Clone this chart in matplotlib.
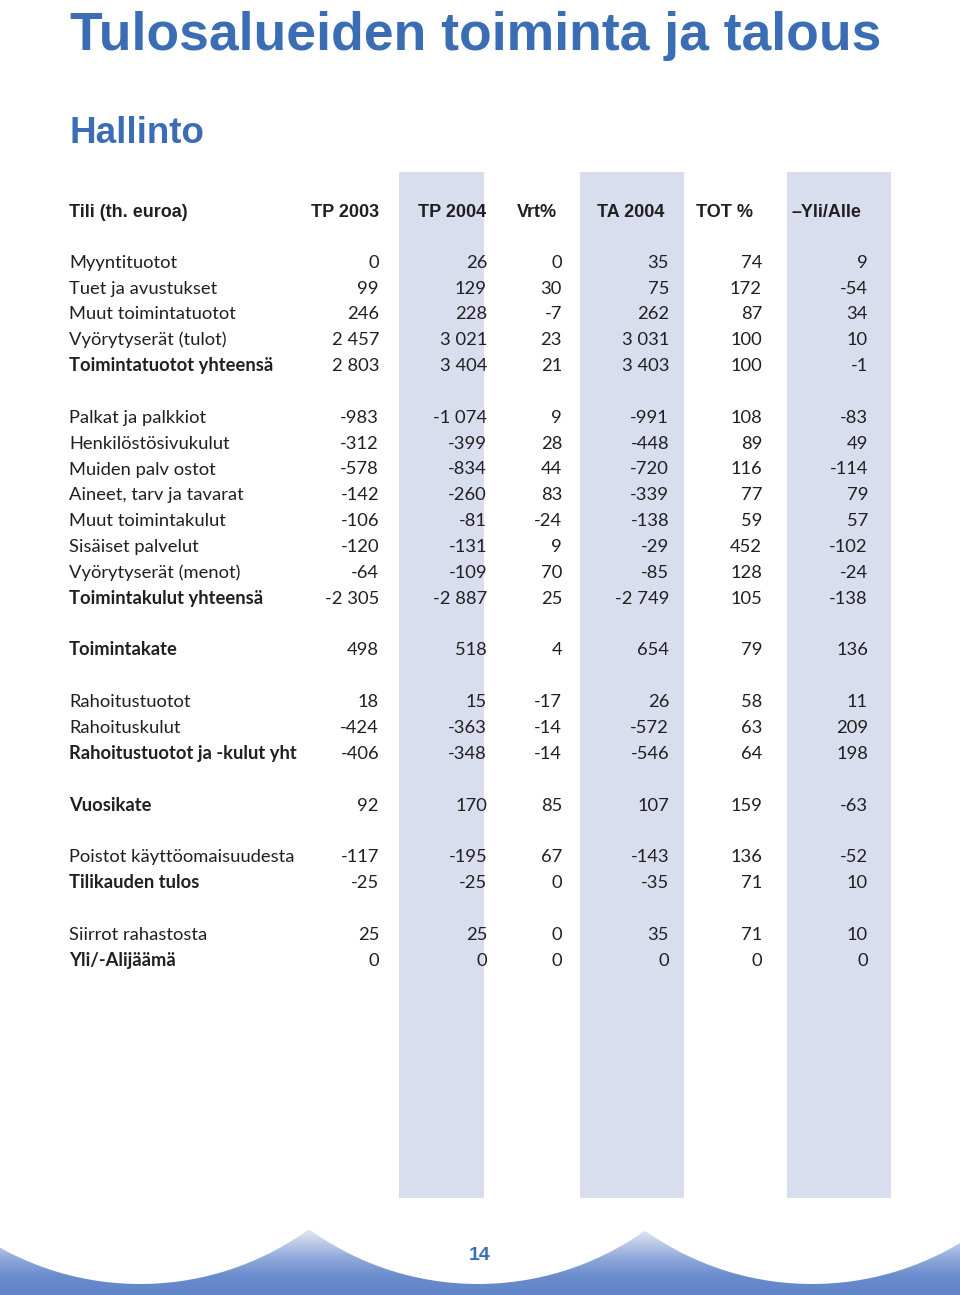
import numpy as np
import matplotlib
matplotlib.use('Agg')
import matplotlib.pyplot as plt
from matplotlib.path import Path
from matplotlib.patches import PathPatch, Rectangle

HEAD = 'Liberation Sans'
BODY = 'Lato'

TITLE    = 'Tulosalueiden toiminta ja talous'
SUBTITLE = 'Hallinto'
HEADERS  = ['Tili (th. euroa)', 'TP 2003', 'TP 2004', 'Vrt%', 'TA 2004', 'TOT %', '\u2013Yli/Alle']

labels = ['Myyntituotot', 'Tuet ja avustukset', 'Muut toimintatuotot', 'Vyörytyserät (tulot)',
          'Toimintatuotot yhteensä',
          'Palkat ja palkkiot', 'Henkilöstösivukulut', 'Muiden palv ostot', 'Aineet, tarv ja tavarat',
          'Muut toimintakulut', 'Sisäiset palvelut', 'Vyörytyserät (menot)', 'Toimintakulut yhteensä',
          'Toimintakate',
          'Rahoitustuotot', 'Rahoituskulut', 'Rahoitustuotot ja -kulut yht',
          'Vuosikate',
          'Poistot käyttöomaisuudesta', 'Tilikauden tulos',
          'Siirrot rahastosta', 'Yli/-Alijäämä']
bold_rows = {'Toimintatuotot yhteensä', 'Toimintakulut yhteensä', 'Toimintakate',
             'Rahoitustuotot ja -kulut yht', 'Vuosikate', 'Tilikauden tulos', 'Yli/-Alijäämä'}
# section each row belongs to (blank line between sections)
section = [0, 0, 0, 0, 0, 1, 1, 1, 1, 1, 1, 1, 1, 2, 3, 3, 3, 4, 5, 5, 6, 6]

tp2003 = [0, 99, 246, 2457, 2803, -983, -312, -578, -142, -106, -120, -64, -2305,
          498, 18, -424, -406, 92, -117, -25, 25, 0]
tp2004 = [26, 129, 228, 3021, 3404, -1074, -399, -834, -260, -81, -131, -109, -2887,
          518, 15, -363, -348, 170, -195, -25, 25, 0]
vrt    = [0, 30, -7, 23, 21, 9, 28, 44, 83, -24, 9, 70, 25,
          4, -17, -14, -14, 85, 67, 0, 0, 0]
ta2004 = [35, 75, 262, 3031, 3403, -991, -448, -720, -339, -138, -29, -85, -2749,
          654, 26, -572, -546, 107, -143, -35, 35, 0]
tot    = [74, 172, 87, 100, 100, 108, 89, 116, 77, 59, 452, 128, 105,
          79, 58, 63, 64, 159, 136, 71, 71, 0]
ylialle = [9, -54, 34, 10, -1, -83, 49, -114, 79, 57, -102, -24, -138,
           136, 11, 209, 198, -63, -52, 10, 10, 0]
PAGE = '14'

BLUE = '#3b6db5'
BAND = '#d9deef'
TXT  = '#231f20'

def fmt(v):
    s = f'{abs(v):,}'.replace(',', ' ')
    return ('-' if v < 0 else '') + s

fig = plt.figure(figsize=(9.6, 12.95), dpi=100)
ax = fig.add_axes([0, 0, 1, 1])
ax.set_xlim(0, 960)
ax.set_ylim(1295, 0)
ax.axis('off')

# shaded columns
for x0, x1 in [(399, 484), (580, 684), (787, 891)]:
    ax.add_patch(Rectangle((x0, 172), x1 - x0, 1198 - 172, color=BAND, lw=0, zorder=0))

# wave footer: gradient band below three white arcs
xs = np.linspace(0, 960, 600)
centers = [140, 478, 812]
r, cy = 288, 996
edge = np.full_like(xs, 1225.0)
for cx in centers:
    d = r**2 - (xs - cx)**2
    yb = np.where(d > 0, cy + np.sqrt(np.clip(d, 0, None)), 0)
    edge = np.maximum(edge, yb)
verts = [(0, 1295)] + list(zip(xs, edge)) + [(960, 1295), (0, 1295)]
clip = PathPatch(Path(verts), facecolor='none', edgecolor='none')
ax.add_patch(clip)
grad = np.linspace(0, 1, 256).reshape(-1, 1)
cmap = matplotlib.colors.LinearSegmentedColormap.from_list(
    'w', ['#f4f6fb', '#c5d0ea', '#8fa8da', '#6a8ccc', '#5f84c8'])
im = ax.imshow(grad, extent=[0, 960, 1295, 1222], cmap=cmap, aspect='auto', zorder=1)
im.set_clip_path(clip)

ax.text(70, 50, TITLE, fontsize=38.5, fontweight='bold', color=BLUE, family=HEAD, va='baseline')
ax.text(70, 143, SUBTITLE, fontsize=26.5, fontweight='bold', color=BLUE, family=HEAD, va='baseline')

col_right = [379, 487, 562, 669, 762, 868]
head_right = [379, 486, 557, 664, 753, 861]
ax.text(69, 217, HEADERS[0], fontsize=13, fontweight='bold', color=TXT, family=HEAD, va='baseline')
for h, xr in zip(HEADERS[1:], head_right):
    ax.text(xr, 217, h, fontsize=13, fontweight='bold', color=TXT, family=HEAD,
            va='baseline', ha='right')

pitch = 25.85
cols = [tp2003, tp2004, vrt, ta2004, tot, ylialle]
for i, lab in enumerate(labels):
    y = 210 + (i + 2 + section[i]) * pitch + 6
    w = 'bold' if lab in bold_rows else 'normal'
    ax.text(69, y, lab, fontsize=13.2, fontweight=w, color=TXT, family=BODY, va='baseline')
    for c, xr in zip(cols, col_right):
        ax.text(xr, y, fmt(c[i]), fontsize=13.2, color=TXT, family=BODY, va='baseline', ha='right')

ax.text(480, 1260, PAGE, fontsize=14, fontweight='bold', color=BLUE, family=HEAD,
        va='baseline', ha='center', zorder=3)

fig.savefig('out.png', dpi=100)
